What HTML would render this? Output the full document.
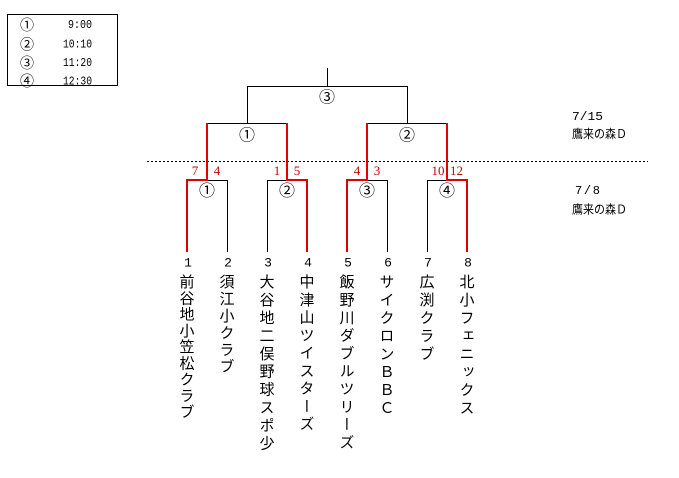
<!DOCTYPE html>
<html><head><meta charset="utf-8">
<style>
html,body{margin:0;padding:0;background:#fff;}
body{width:679px;height:478px;position:relative;overflow:hidden;}
svg{position:absolute;left:0;top:0;}
.t{position:absolute;top:273.5px;width:15px;writing-mode:vertical-rl;font-family:"Liberation Sans","Noto Sans CJK JP",sans-serif;font-size:15px;line-height:15px;color:#000;white-space:nowrap;}
</style></head><body>
<svg width="679" height="478" viewBox="0 0 679 478" xmlns="http://www.w3.org/2000/svg">
<rect x="0" y="0" width="679" height="478" fill="#fff"/>
<!-- time table -->
<rect x="7.5" y="14.5" width="110" height="71" fill="none" stroke="#000" stroke-width="1"/>
<g font-family="Noto Sans CJK JP, sans-serif" font-size="14" text-anchor="middle" fill="#000">
<text x="27" y="29.8">①</text>
<text x="27" y="49.5">②</text>
<text x="27" y="67.8">③</text>
<text x="27" y="86">④</text>
</g>
<g font-family="Liberation Mono, monospace" font-size="12" fill="#000">
<text x="68" y="28.2" textLength="24" lengthAdjust="spacingAndGlyphs">9:00</text>
<text x="63" y="47.5" textLength="29" lengthAdjust="spacingAndGlyphs">10:10</text>
<text x="63" y="66.2" textLength="29" lengthAdjust="spacingAndGlyphs">11:20</text>
<text x="63" y="84.5" textLength="29" lengthAdjust="spacingAndGlyphs">12:30</text>
</g>
<!-- dotted line -->
<line x1="147" y1="161.5" x2="648" y2="161.5" stroke="#000" stroke-width="1" stroke-dasharray="2,2" shape-rendering="crispEdges"/>
<!-- black lines -->
<path d="M327.5 68 V86.5 M247 86.5 H408 M247.5 86 V123 M407.5 86 V123 M207 123.5 H288 M367 123.5 H448 M207 180.5 H228 M227.5 180 V252 M267 180.5 H287 M267.5 180 V252 M367 180.5 H388 M387.5 180 V252 M427 180.5 H447 M427.5 180 V252" stroke="#000" stroke-width="1" fill="none" shape-rendering="crispEdges"/>
<!-- red lines -->
<path d="M207 123 V181 M287 123 V181 M367 123 V181 M447 123 V181 M186 180 H208 M286 180 H308 M346 180 H368 M446 180 H468 M187 180 V252 M307 180 V252 M347 180 V252 M467 180 V252" stroke="#e00000" stroke-width="2" fill="none" shape-rendering="crispEdges"/>
<!-- circled match labels -->
<g font-family="Noto Sans CJK JP, sans-serif" font-size="16" text-anchor="middle" fill="#000">
<text x="327" y="102.6">③</text>
<text x="247" y="140.4">①</text>
<text x="407" y="140.6">②</text>
<text x="207" y="196">①</text>
<text x="287" y="196">②</text>
<text x="367" y="196">③</text>
<text x="447" y="196">④</text>
</g>
<!-- red scores -->
<g font-family="Liberation Serif, serif" font-size="13" text-anchor="middle" fill="#cc0000">
<text x="195" y="175">7</text>
<text x="217" y="175">4</text>
<text x="277" y="175">1</text>
<text x="297" y="175">5</text>
<text x="357" y="175">4</text>
<text x="377" y="175">3</text>
<text x="438" y="175">10</text>
<text x="456.5" y="175">12</text>
</g>
<!-- team numbers -->
<g font-family="Liberation Mono, monospace" font-size="13" text-anchor="middle" fill="#000">
<text x="188" y="266.5">1</text>
<text x="228" y="266.5">2</text>
<text x="268" y="266.5">3</text>
<text x="308" y="266.5">4</text>
<text x="348" y="266.5">5</text>
<text x="388" y="266.5">6</text>
<text x="428" y="266.5">7</text>
<text x="468" y="266.5">8</text>
</g>
<!-- right labels -->
<g font-family="Liberation Mono, monospace" font-size="12" fill="#000">
<text x="572" y="119.8" textLength="31" lengthAdjust="spacingAndGlyphs">7/15</text>
<text x="575" y="194" textLength="25" lengthAdjust="spacing">7/8</text>
</g>
<g font-family="Noto Sans CJK JP, sans-serif" font-size="12" fill="#000">
<text x="572" y="138" textLength="55" lengthAdjust="spacingAndGlyphs">鷹来の森Ｄ</text>
<text x="572" y="213.6" textLength="55" lengthAdjust="spacingAndGlyphs">鷹来の森Ｄ</text>
</g>
</svg>
<div class="t" style="left:178.5px;letter-spacing:1.25px;">前谷地小笠松クラブ</div>
<div class="t" style="left:218.5px;letter-spacing:1.9px;">須江小クラブ</div>
<div class="t" style="left:258.5px;letter-spacing:2.9px;">大谷地二俣野球スポ少</div>
<div class="t" style="left:298.5px;letter-spacing:2.75px;">中津山ツイスターズ</div>
<div class="t" style="left:338.5px;letter-spacing:2.8px;">飯野川ダブルツリーズ</div>
<div class="t" style="left:378.5px;letter-spacing:3px;">サイクロンＢＢＣ</div>
<div class="t" style="left:418.5px;letter-spacing:3px;">広渕クラブ</div>
<div class="t" style="left:458.5px;letter-spacing:3px;">北小フェニックス</div>
</body></html>
